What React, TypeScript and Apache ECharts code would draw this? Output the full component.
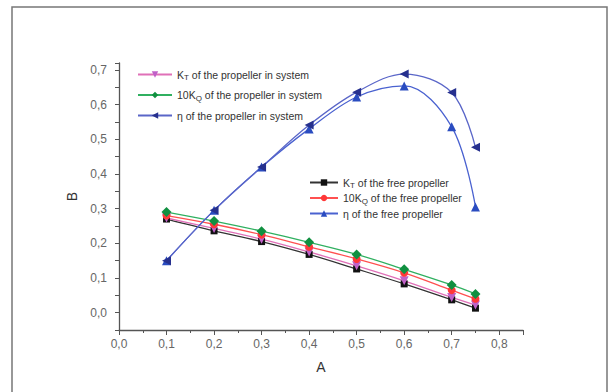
import React, { useEffect, useRef } from "react";
import * as echarts from "echarts";

const A = [0.1, 0.2, 0.3, 0.4, 0.5, 0.6, 0.7, 0.75];
const ktSystem = [0.273, 0.243, 0.212, 0.175, 0.135, 0.092, 0.044, 0.022];
const kqSystem = [0.29, 0.264, 0.235, 0.203, 0.168, 0.125, 0.08, 0.054];
const etaSystem = [0.15, 0.295, 0.42, 0.541, 0.636, 0.688, 0.635, 0.477];
const ktFree = [0.27, 0.236, 0.205, 0.168, 0.126, 0.083, 0.037, 0.013];
const kqFree = [0.28, 0.255, 0.225, 0.19, 0.155, 0.115, 0.065, 0.04];
const etaFree = [0.15, 0.295, 0.42, 0.53, 0.622, 0.654, 0.536, 0.305];

const N_KT_SYS = "K{sub|T} of the propeller in system";
const N_KQ_SYS = "10K{sub|Q} of the propeller in system";
const N_ETA_SYS = "η of the propeller in system";
const N_KT_FREE = "K{sub|T} of the free propeller";
const N_KQ_FREE = "10K{sub|Q} of the free propeller";
const N_ETA_FREE = "η of the free propeller";

const FONT = "Liberation Sans";

const pair = (ys: number[]) => A.map((x, i) => [x, ys[i]]);

const fmt = (v: number) => {
  if (Math.abs(v * 10 - Math.round(v * 10)) > 1e-6) return "";
  if (v < -1e-9) return "";
  return v.toFixed(1).replace(".", ",");
};

export default function App() {
  const ref = useRef<HTMLDivElement>(null);
  useEffect(() => {
    if (!ref.current) return;
    const chart = echarts.init(ref.current, undefined, { renderer: "svg" });
    const mk = (
      name: string,
      ys: number[],
      line: string,
      item: string,
      symbol: string,
      rot: number,
      size: number
    ) => ({
      name,
      type: "line",
      data: pair(ys),
      smooth: 0.35,
      symbol,
      symbolRotate: rot,
      symbolSize: size,
      lineStyle: { color: line, width: 1.3 },
      itemStyle: { color: item },
    });
    const legendText = {
      fontFamily: FONT,
      fontSize: 10.5,
      color: "#333",
      rich: {
        sub: { fontFamily: FONT, fontSize: 8, color: "#333", padding: [6, 0, 0, 0] },
      },
    };
    chart.setOption({
      animation: false,
      backgroundColor: "#fff",
      textStyle: { fontFamily: FONT },
      graphic: [
        {
          type: "rect",
          shape: { x: 12, y: 7, width: 595, height: 392 },
          style: { fill: "none", stroke: "#777", lineWidth: 1.5 },
          silent: true,
        },
      ],
      grid: { left: 119, right: 89, top: 63, bottom: 62 },
      legend: [
        {
          orient: "vertical",
          left: 132,
          top: 64,
          itemWidth: 34,
          itemHeight: 8,
          itemGap: 8,
          textStyle: legendText,
          data: [N_KT_SYS, N_KQ_SYS, N_ETA_SYS],
        },
        {
          orient: "vertical",
          left: 304,
          top: 172,
          itemWidth: 28,
          itemHeight: 8,
          itemGap: 3,
          textStyle: legendText,
          data: [N_KT_FREE, N_KQ_FREE, N_ETA_FREE],
        },
      ],
      xAxis: {
        type: "value",
        min: 0,
        max: 0.85,
        interval: 0.1,
        name: "A",
        nameLocation: "middle",
        nameGap: 30,
        nameTextStyle: { fontFamily: FONT, fontSize: 14, color: "#333" },
        axisLine: { show: true, onZero: false, lineStyle: { color: "#555", width: 1.3 } },
        axisTick: { show: true, inside: false, length: 5, lineStyle: { color: "#555" } },
        minorTick: { show: true, splitNumber: 2, length: 3, lineStyle: { color: "#555" } },
        splitLine: { show: false },
        axisLabel: {
          formatter: fmt,
          fontFamily: FONT,
          fontSize: 12,
          color: "#666",
          margin: 8,
        },
      },
      yAxis: {
        type: "value",
        min: -0.05,
        max: 0.72,
        interval: 0.05,
        name: "B",
        nameLocation: "middle",
        nameGap: 38,
        nameTextStyle: { fontFamily: FONT, fontSize: 14, color: "#333" },
        axisLine: { show: true, onZero: false, lineStyle: { color: "#555", width: 1.3 } },
        axisTick: { show: true, inside: false, length: 4, lineStyle: { color: "#555" } },
        splitLine: { show: false },
        axisLabel: {
          formatter: fmt,
          fontFamily: FONT,
          fontSize: 12,
          color: "#666",
          margin: 12,
        },
      },
      series: [
        mk(N_KT_FREE, ktFree, "#333", "#111", "rect", 0, 7),
        mk(N_KT_SYS, ktSystem, "#e070b8", "#c060c8", "triangle", 180, 9),
        mk(N_KQ_FREE, kqFree, "#ff5050", "#ff3838", "circle", 0, 8),
        mk(N_KQ_SYS, kqSystem, "#30b060", "#109040", "diamond", 0, 10),
        mk(N_ETA_FREE, etaFree, "#4a62d0", "#2a4cc0", "triangle", 0, 9),
        mk(N_ETA_SYS, etaSystem, "#5a66c8", "#26308e", "triangle", 90, 9),
      ],
    });
    return () => chart.dispose();
  }, []);
  return (
    <div
      ref={ref}
      style={{ position: "fixed", left: 0, top: 0, width: 612, height: 392 }}
    />
  );
}
